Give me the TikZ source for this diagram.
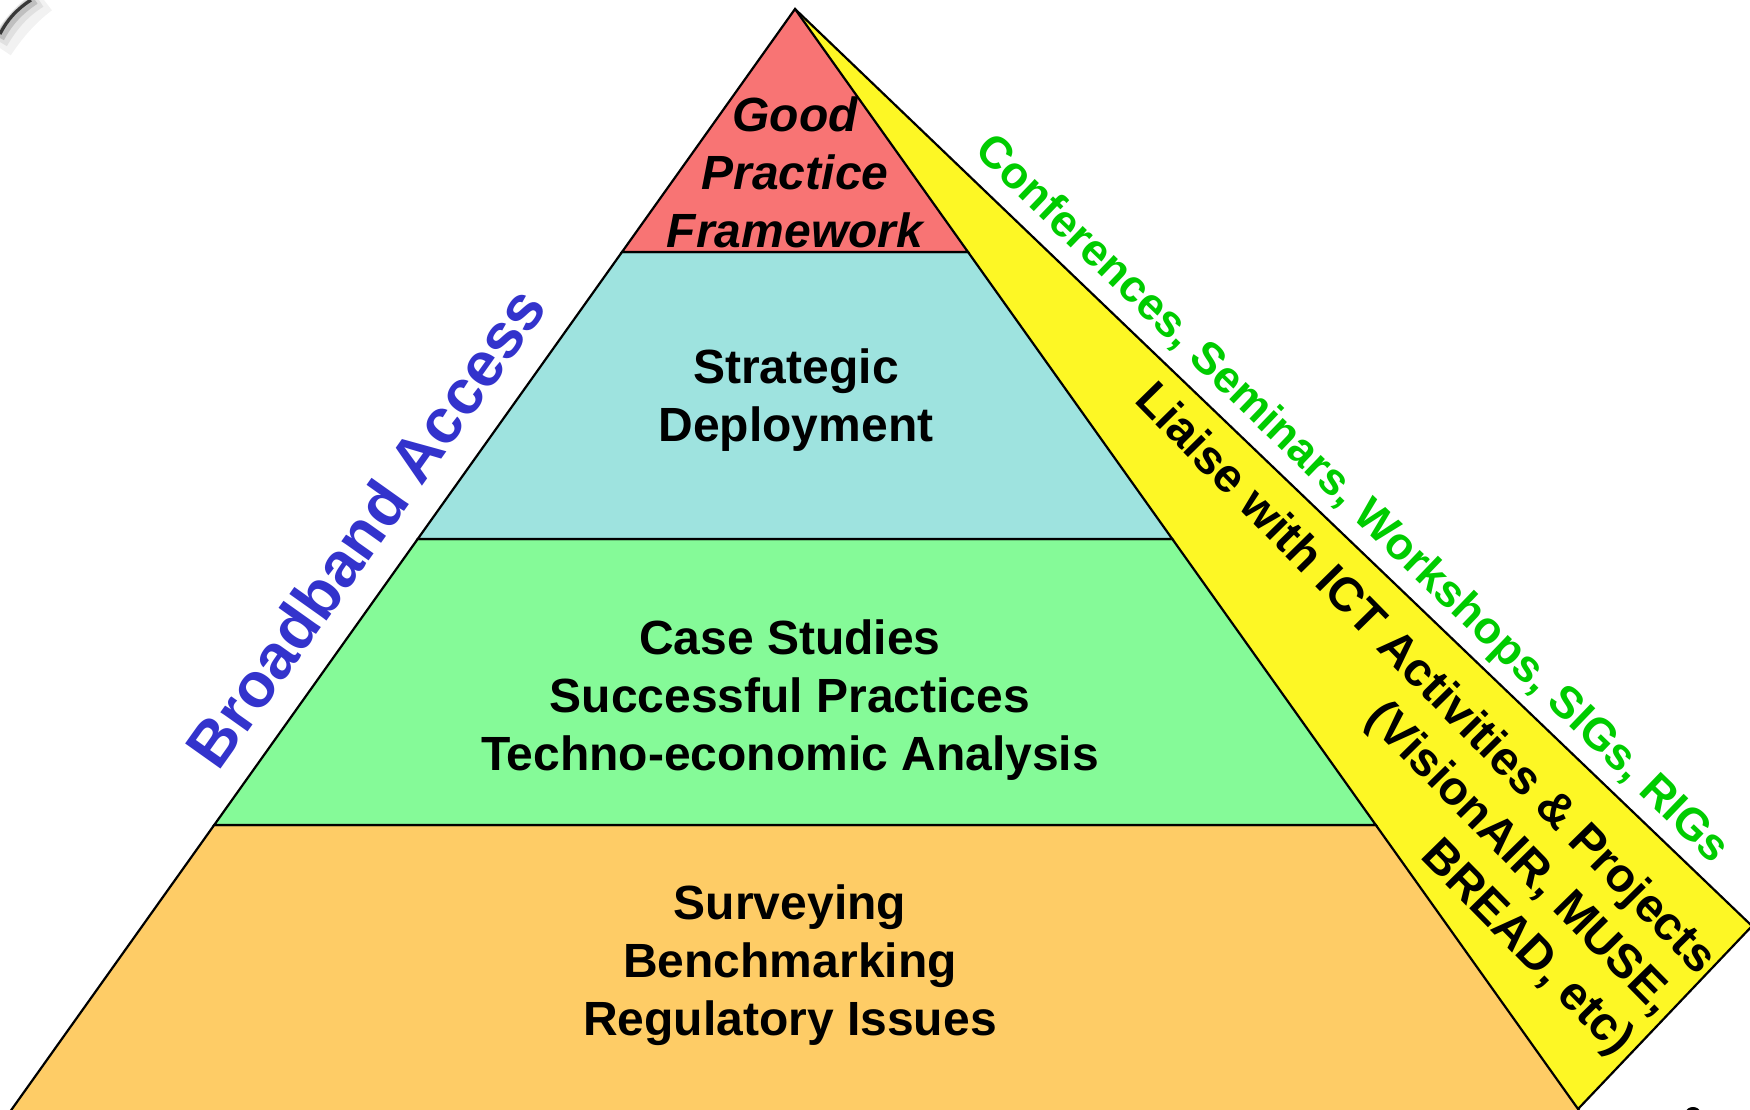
\documentclass[tikz,border=0pt]{standalone}
\usepackage{fontspec}
\setmainfont{Liberation Sans}
\definecolor{bandred}{RGB}{248,116,116}
\definecolor{bandcyan}{RGB}{158,227,223}
\definecolor{bandgreen}{RGB}{133,250,152}
\definecolor{bandorange}{RGB}{254,204,102}
\definecolor{bandyellow}{RGB}{253,247,37}
\definecolor{txtblue}{RGB}{51,51,204}
\definecolor{txtgreen}{RGB}{0,204,0}
\begin{document}
\begin{tikzpicture}[x=1pt,y=-1pt,
  band/.style={draw=black, line width=2.2pt, line join=miter},
  lbl/.style={font=\fontsize{48}{58}\selectfont\bfseries, inner sep=0pt, anchor=base},
  lblit/.style={font=\fontsize{48}{58}\selectfont\bfseries\itshape, inner sep=0pt, anchor=base},
  ylbl/.style={font=\fontsize{47.5}{57}\selectfont\bfseries, inner sep=0pt, anchor=base east, rotate=-45.5},
  glbl/.style={font=\fontsize{45}{54}\selectfont\bfseries, text=txtgreen, inner sep=0pt, anchor=base, rotate=-43.9},
  blbl/.style={font=\fontsize{63}{75}\selectfont\bfseries, text=txtblue, inner sep=0pt, anchor=base, rotate=54.6},
  halo/.style={line width=#1, black!12}]
\useasboundingbox (0,0) rectangle (1750,1109);
\begin{scope}
\clip (0,0) rectangle (1750,1109);
% slide frame corner with soft shadow
\draw[line width=26pt, black!5] (44,0) .. controls (28,12) and (14,27) .. (0,48);
\draw[line width=16pt, black!12] (39,0) .. controls (23,10) and (11,23) .. (0,42);
\draw[line width=9pt, black!25] (35,0) .. controls (20,10) and (9,21) .. (0,38);
\draw[line width=3.2pt, black!78] (31,0) .. controls (17,9) and (7,20) .. (0,34);
% coordinates
\coordinate (apex) at (795,9);
\coordinate (yc) at (1752,926);
\coordinate (yb) at (1578,1109);
\coordinate (l1) at (622,252);   \coordinate (r1) at (968,252);
\coordinate (l2) at (417.7,539); \coordinate (r2) at (1172.3,539);
\coordinate (l3) at (214.2,825); \coordinate (r3) at (1375.8,825);
\coordinate (l4) at (7.7,1115);  \coordinate (r4) at (1582.3,1115);
% yellow side
\fill[bandyellow] (apex) -- (yc) -- (yb) -- cycle;
\draw[band] (apex) -- (yc) -- (yb);
% bands
\filldraw[band, fill=bandorange] (l3) -- (r3) -- (r4) -- (l4) -- cycle;
\filldraw[band, fill=bandgreen] (l2) -- (r2) -- (r3) -- (l3) -- cycle;
\filldraw[band, fill=bandcyan] (l1) -- (r1) -- (r2) -- (l2) -- cycle;
\filldraw[band, fill=bandred] (apex) -- (r1) -- (l1) -- cycle;
% small clipped mark
\fill[black] (1693,1112) ellipse [x radius=7pt, y radius=5pt];
\end{scope}
% texts
\node[lblit] (gp1) at (795,131) {Good};
\node[lblit] (gp2) at (795,189) {Practice};
\node[lblit] (gp3) at (795,247) {Framework};
\node[lbl] (sd1) at (796,383) {Strategic};
\node[lbl] (sd2) at (796,441) {Deployment};
\node[lbl] (cs1) at (790,654) {Case Studies};
\node[lbl] (cs2) at (790,712) {Successful Practices};
\node[lbl] (cs3) at (790,770) {Techno-economic Analysis};
\node[lbl] (sv1) at (790,919) {Surveying};
\node[lbl] (sv2) at (790,977) {Benchmarking};
\node[lbl] (sv3) at (790,1035) {Regulatory Issues};
\node[blbl] (ba) at (384,540) {Broadband Access};
\node[glbl] (conf) at (1343,509) {Conferences, Seminars, Workshops, SIGs, RIGs};
\node[ylbl] (ict1) at (1698,976) {Liaise with ICT Activities \& Projects};
\node[ylbl] (ict2) at (1656.6,1016.7) {(VisionAIR, MUSE,};
\node[ylbl] (ict3) at (1615.3,1057.3) {BREAD, etc)};
\end{tikzpicture}
\end{document}
